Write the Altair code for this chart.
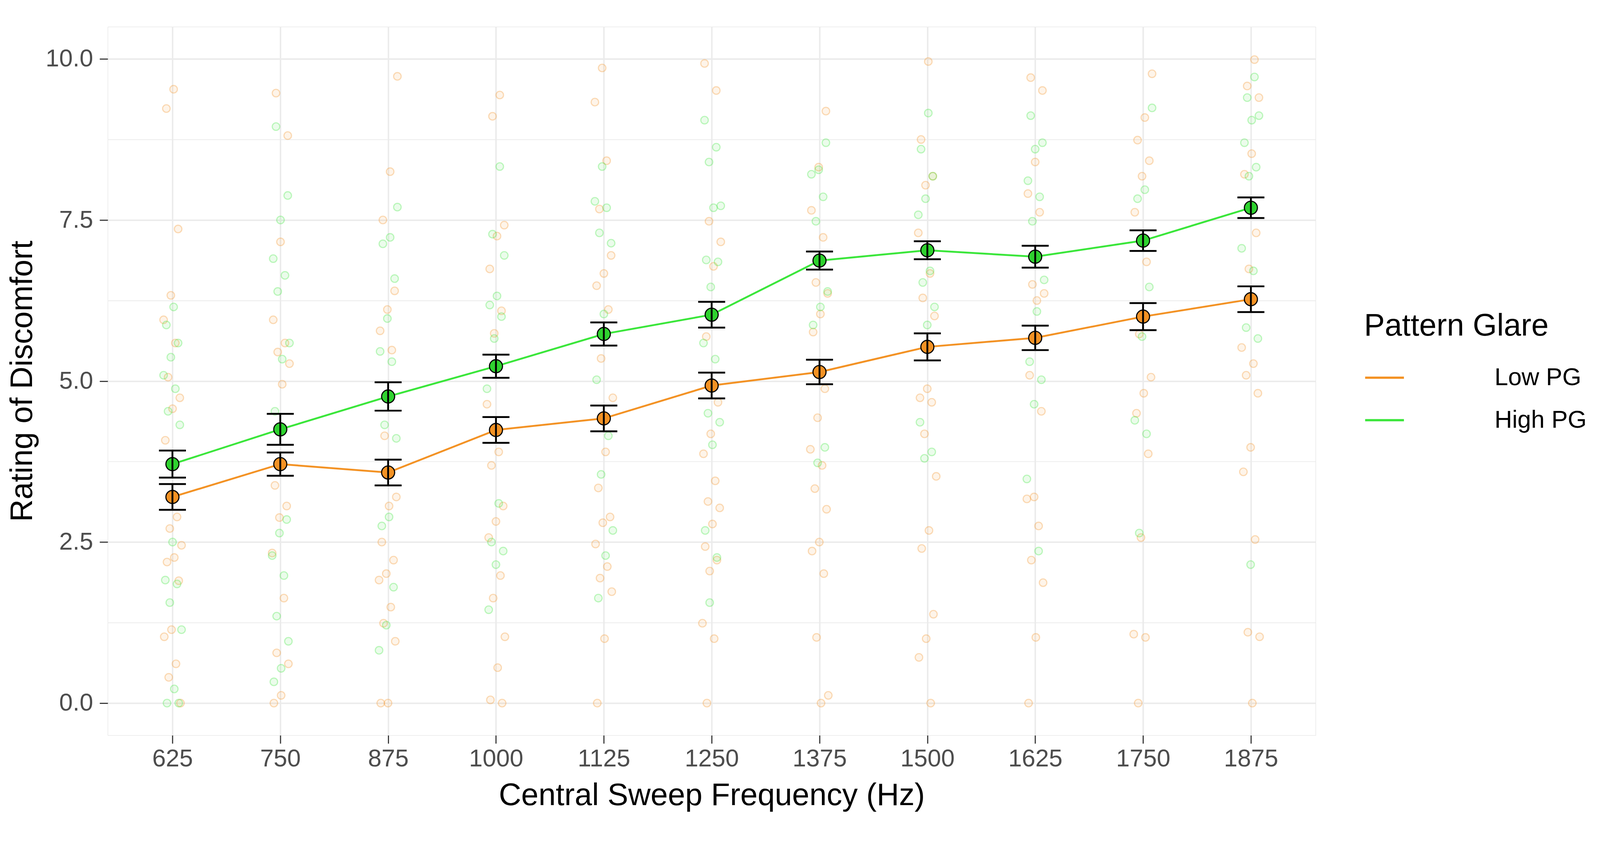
import altair as alt
import pandas as pd

# ---------------- data ----------------
freqs = [625, 750, 875, 1000, 1125, 1250, 1375, 1500, 1625, 1750, 1875]
groups = ["Low PG", "High PG"]

low_mean = [3.20, 3.71, 3.58, 4.24, 4.42, 4.93, 5.14, 5.53, 5.67, 6.00, 6.27]
low_se = [0.20, 0.18, 0.20, 0.20, 0.20, 0.20, 0.19, 0.21, 0.19, 0.21, 0.20]
high_mean = [3.71, 4.25, 4.76, 5.23, 5.73, 6.03, 6.87, 7.03, 6.93, 7.18, 7.69]
high_se = [0.21, 0.24, 0.22, 0.18, 0.18, 0.20, 0.14, 0.14, 0.17, 0.16, 0.16]

low_625 = [9.53, 9.23, 7.36, 6.33, 5.95, 5.59, 5.06, 4.74, 4.57, 4.08, 2.89, 2.71, 2.45, 2.26, 2.19, 1.90, 1.14, 1.03, 0.61, 0.40, 0.0]
high_625 = [6.15, 5.87, 5.59, 5.37, 5.09, 4.88, 4.53, 4.32, 2.50, 1.91, 1.85, 1.56, 1.14, 0.22, 0.0, 0.0]
low_750 = [9.47, 8.81, 7.16, 5.95, 5.59, 5.45, 5.27, 4.95, 3.38, 3.06, 2.88, 2.33, 1.63, 0.78, 0.61, 0.12, 0.0]
high_750 = [8.95, 7.88, 7.50, 6.90, 6.64, 6.39, 5.59, 5.34, 4.53, 2.85, 2.64, 2.29, 1.98, 1.35, 0.96, 0.54, 0.33]
low_875 = [9.73, 8.25, 7.50, 6.40, 6.11, 5.78, 5.48, 4.15, 3.20, 3.06, 2.50, 2.22, 2.01, 1.91, 1.49, 1.24, 0.96, 0.0, 0.0]
high_875 = [7.70, 7.23, 7.13, 6.59, 5.97, 5.46, 5.30, 4.32, 4.11, 2.89, 2.75, 1.80, 1.21, 0.82]
low_1000 = [9.44, 9.11, 7.42, 7.25, 6.74, 6.09, 5.74, 4.64, 3.90, 3.69, 3.06, 2.82, 2.57, 1.98, 1.63, 1.03, 0.55, 0.05, 0.0]
high_1000 = [8.33, 7.28, 6.95, 6.32, 6.18, 6.00, 5.66, 4.88, 3.10, 2.50, 2.36, 2.15, 1.45]
low_1125 = [9.86, 9.33, 8.42, 7.67, 6.95, 6.67, 6.48, 6.11, 5.35, 4.74, 3.90, 3.34, 2.89, 2.80, 2.47, 2.12, 1.94, 1.73, 1.00, 0.0]
high_1125 = [8.33, 7.79, 7.69, 7.30, 7.14, 6.04, 5.02, 4.15, 3.55, 2.68, 2.29, 1.63]
low_1250 = [9.93, 9.51, 7.48, 7.16, 6.78, 5.69, 4.67, 4.18, 3.87, 3.45, 3.13, 3.03, 2.78, 2.43, 2.22, 2.05, 1.24, 1.00, 0.0]
high_1250 = [9.05, 8.63, 8.40, 7.72, 7.69, 6.88, 6.85, 6.46, 5.59, 5.34, 4.50, 4.36, 4.01, 2.68, 2.26, 1.56]
low_1375 = [9.19, 8.32, 7.65, 7.23, 6.53, 6.36, 6.04, 5.76, 4.88, 4.43, 3.94, 3.69, 3.33, 3.01, 2.50, 2.36, 2.01, 1.02, 0.12, 0.0]
high_1375 = [8.70, 8.28, 8.21, 7.86, 7.48, 6.39, 6.15, 5.87, 3.97, 3.73]
low_1500 = [9.96, 8.75, 8.18, 8.04, 7.30, 6.67, 6.29, 6.01, 4.88, 4.74, 4.67, 4.18, 3.52, 2.68, 2.40, 1.38, 1.00, 0.71, 0.0]
high_1500 = [9.16, 8.60, 8.18, 7.83, 7.58, 6.71, 6.53, 6.15, 5.87, 4.36, 3.90, 3.80]
low_1625 = [9.71, 9.51, 8.40, 7.91, 7.62, 6.50, 6.36, 6.25, 5.09, 4.53, 3.20, 3.17, 2.75, 2.22, 1.87, 1.02, 0.0]
high_1625 = [9.12, 8.70, 8.60, 8.11, 7.86, 7.48, 6.57, 6.08, 5.30, 5.02, 4.64, 3.48, 2.36]
low_1750 = [9.77, 9.09, 8.74, 8.42, 8.18, 7.62, 6.85, 5.73, 5.06, 4.81, 4.50, 3.87, 2.57, 1.07, 1.02, 0.0]
high_1750 = [9.24, 7.97, 7.83, 6.46, 5.69, 4.39, 4.18, 2.64]
low_1875 = [9.99, 9.58, 9.40, 8.53, 8.21, 7.30, 6.74, 5.52, 5.27, 5.09, 4.81, 3.97, 3.59, 2.54, 1.10, 1.03, 0.0]
high_1875 = [9.72, 9.40, 9.12, 9.05, 8.70, 8.32, 8.18, 7.06, 6.71, 5.83, 5.66, 2.15]

low_raw = [low_625, low_750, low_875, low_1000, low_1125, low_1250,
           low_1375, low_1500, low_1625, low_1750, low_1875]
high_raw = [high_625, high_750, high_875, high_1000, high_1125, high_1250,
            high_1375, high_1500, high_1625, high_1750, high_1875]

# ---------------- tables ----------------
rows = []
for g, lists in (("Low PG", low_raw), ("High PG", high_raw)):
    for f, vals in zip(freqs, lists):
        for k, v in enumerate(vals):
            rows.append({"freq": f, "group": g, "rating": v, "k": k})
raw = pd.DataFrame(rows)

srows = []
for g, means, ses in (("Low PG", low_mean, low_se), ("High PG", high_mean, high_se)):
    for f, m, s in zip(freqs, means, ses):
        srows.append({"freq": f, "group": g, "mean": m, "lo": m - s, "hi": m + s})
summ = pd.DataFrame(srows)

# ---------------- style ----------------
FONT = "Liberation Sans"
ORANGE = "#F39224"
GREEN_LINE = "#3AE63A"
GREEN_FILL = "#2FD22F"
W, H = 3268, 1917

xscale = alt.Scale(domain=[550, 1950], nice=False, zero=False)
yscale = alt.Scale(domain=[-0.5, 10.5], nice=False, zero=False)

xaxis = alt.Axis(
    values=freqs, format="d", title="Central Sweep Frequency (Hz)",
    domain=False, grid=True, gridColor="#EBEBEB", gridWidth=4,
    ticks=True, tickColor="#333333", tickWidth=3, tickSize=22,
    labelFont=FONT, labelFontSize=66, labelColor="#4D4D4D", labelPadding=10,
    titleFont=FONT, titleFontSize=84, titleColor="#000000", titleFontWeight="normal",
    titleBaseline="alphabetic", titleY=188, labelFlush=False, labelOverlap=False,
)
yaxis = alt.Axis(
    values=[0, 1.25, 2.5, 3.75, 5, 6.25, 7.5, 8.75, 10],
    labelExpr="datum.value % 2.5 == 0 ? format(datum.value, '.1f') : ''",
    title="Rating of Discomfort",
    domain=False, grid=True, gridColor="#EBEBEB",
    gridWidth={"condition": {"test": "datum.value % 2.5 != 0", "value": 2}, "value": 4},
    ticks=True, tickColor="#333333", tickWidth=3, tickSize=22,
    tickOpacity={"condition": {"test": "datum.value % 2.5 != 0", "value": 0}, "value": 1},
    labelFont=FONT, labelFontSize=66, labelColor="#4D4D4D", labelPadding=18,
    titleFont=FONT, titleFontSize=84, titleColor="#000000", titleFontWeight="normal",
    titleBaseline="alphabetic", titleAngle=270, titleX=-205, titleY=H / 2,
    titleAlign="center", labelFlush=False, labelOverlap=False,
)

color_scale = alt.Scale(domain=groups, range=[ORANGE, GREEN_LINE])
X = alt.X("freq:Q", scale=xscale, axis=xaxis)

layers = []

# jittered individual ratings (one layer per group)
for g, col in (("Low PG", ORANGE), ("High PG", GREEN_LINE)):
    layers.append(
        alt.Chart(raw).transform_filter(alt.datum.group == g).transform_calculate(
            xj="datum.freq + (((datum.k * 0.6180339887 + datum.freq * 0.0137) % 1) - 0.5) * 22"
        ).mark_circle(size=420, stroke=col, fill=col, strokeWidth=3,
                      strokeOpacity=0.32, fillOpacity=0.10).encode(
            x=alt.X("xj:Q", scale=xscale, axis=xaxis),
            y=alt.Y("rating:Q", scale=yscale, axis=yaxis),
        )
    )

# mean lines, carrying the legend
layers.append(
    alt.Chart(summ).mark_line(strokeWidth=5).encode(
        x=X,
        y=alt.Y("mean:Q", scale=yscale, axis=yaxis),
        color=alt.Color(
            "group:N", scale=color_scale,
            legend=alt.Legend(
                title="Pattern Glare", orient="none", legendX=3399, legendY=770,
                symbolType="stroke", symbolSize=11025, symbolStrokeWidth=6,
                labelOffset=242, rowPadding=26, titlePadding=40, padding=0,
                titleFont=FONT, titleFontSize=84, titleFontWeight="normal", titleColor="#000000",
                titleLimit=0, labelFont=FONT, labelFontSize=66, labelColor="#000000", labelLimit=0,
            ),
        ),
    )
)

# mean points
for g, col in (("Low PG", ORANGE), ("High PG", GREEN_FILL)):
    layers.append(
        alt.Chart(summ).transform_filter(alt.datum.group == g).mark_circle(
            size=1250, fill=col, stroke="#000000", strokeWidth=3, opacity=1
        ).encode(x=X, y=alt.Y("mean:Q", scale=yscale, axis=yaxis))
    )

# standard-error bars
layers.append(
    alt.Chart(summ).mark_rule(color="#000000", strokeWidth=5).encode(
        x=X, y=alt.Y("lo:Q", scale=yscale, axis=yaxis), y2="hi:Q",
    )
)
for fld in ("lo", "hi"):
    layers.append(
        alt.Chart(summ).mark_tick(orient="horizontal", size=73, thickness=5,
                                  color="#000000", opacity=1).encode(
            x=X, y=alt.Y(f"{fld}:Q", scale=yscale, axis=yaxis),
        )
    )

chart = alt.layer(*layers).properties(
    width=W, height=H,
    autosize=alt.AutoSizeParams(type="none"),
    padding={"left": 283, "top": 3, "right": 761, "bottom": 222},
    background="#FFFFFF",
).configure_view(
    stroke="#333333", strokeWidth=3, fill="#FFFFFF",
).configure(font=FONT)

chart.save("out.html", embed_options={"renderer": "svg", "actions": False})
